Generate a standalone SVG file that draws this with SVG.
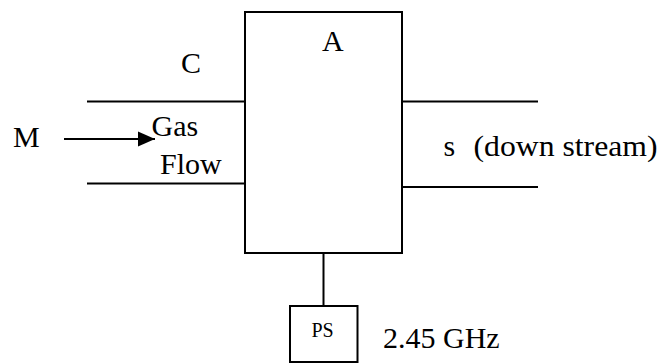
<svg xmlns="http://www.w3.org/2000/svg" width="658" height="363" viewBox="0 0 658 363">
  <style>
    .ln { stroke: #000; stroke-width: 2; fill: none; }
    .box { stroke: #000; stroke-width: 2; fill: #fff; }
  </style>
  <defs>
    <marker id="arr" markerUnits="userSpaceOnUse" markerWidth="18" markerHeight="16" refX="17" refY="8" orient="auto">
      <path d="M0,0.5 L17,8 L0,15.5 Z" fill="#000"/>
    </marker>
  </defs>
  <g id="connectors">
    <line class="ln" x1="87" y1="101.5" x2="245" y2="101.5"/>
    <line class="ln" x1="87" y1="183.5" x2="245" y2="183.5"/>
    <line class="ln" x1="402" y1="101.5" x2="538" y2="101.5"/>
    <line class="ln" x1="402" y1="187" x2="538" y2="187"/>
    <line class="ln" x1="64" y1="139" x2="155" y2="139" marker-end="url(#arr)"/>
    <line class="ln" x1="323.5" y1="253" x2="323.5" y2="306"/>
  </g>
  <g font-family="Liberation Serif, Times New Roman, serif" font-size="30" fill="#000">
    <g id="chamber">
      <rect class="box" x="245" y="12" width="157" height="241"/>
      <text x="322" y="51">A</text>
    </g>
    <g id="ps">
      <rect class="box" x="290" y="306" width="67.5" height="56"/>
      <text x="311.5" y="336.5" font-size="20">PS</text>
    </g>
    <g id="labels">
      <text x="13" y="147">M</text>
      <text x="181" y="73">C</text>
      <text x="151.5" y="136">Gas</text>
      <text x="160" y="174">Flow</text>
      <text x="443.5" y="156">s <tspan x="473.5" textLength="184" lengthAdjust="spacingAndGlyphs">(down stream)</tspan></text>
      <text x="383" y="348">2.45 GHz</text>
    </g>
  </g>
</svg>
